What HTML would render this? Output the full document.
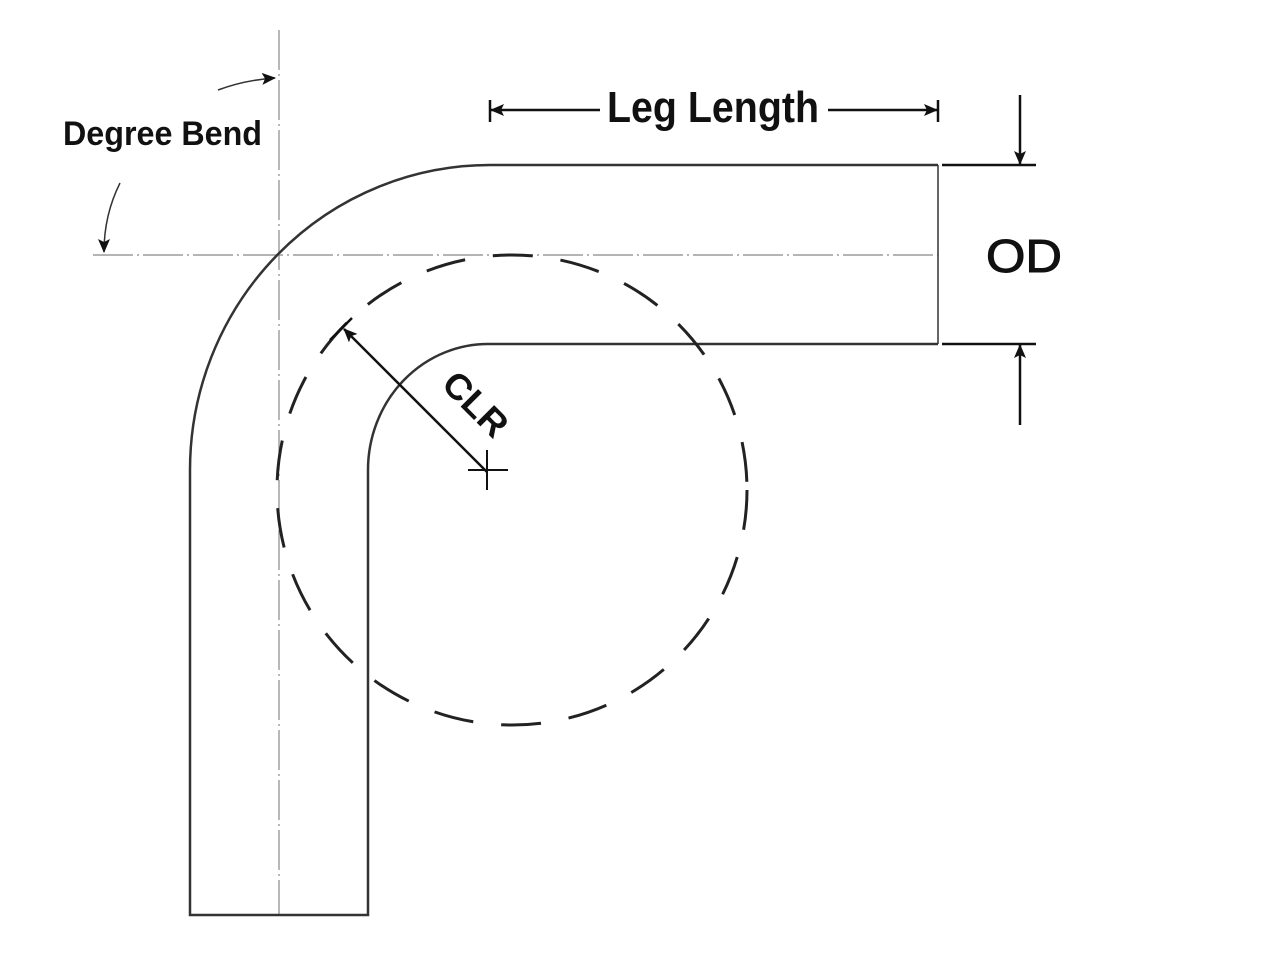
<!DOCTYPE html>
<html><head><style>body{margin:0;background:#fff}svg{display:block}</style></head><body>
<svg width="1280" height="960" viewBox="0 0 1280 960" xmlns="http://www.w3.org/2000/svg">
<rect width="1280" height="960" fill="#fff"/>
<defs>
<marker id="ah" markerWidth="14" markerHeight="12" refX="13" refY="6" orient="auto" markerUnits="userSpaceOnUse">
<path d="M0,0 L14,6 L0,12 L3,6 Z" fill="#111"/></marker>
</defs>
<g stroke="#888" stroke-width="1.2" fill="none" stroke-dasharray="40,4,2,4">
<line x1="279" y1="30" x2="279" y2="915"/>
<line x1="93" y1="255" x2="938" y2="255"/>
</g>
<g stroke="#333" stroke-width="2.5" fill="none">
<path d="M938,165 L490,165 A300,305 0 0 0 190,470 L190,915 L368,915 L368,470 A120,126 0 0 1 490,344 L938,344"/>
<line x1="938" y1="165" x2="938" y2="344" stroke-width="1.5"/>
</g>
<circle cx="512" cy="490" r="235" fill="none" stroke="#222" stroke-width="3" stroke-dasharray="40,28"/>
<g stroke="#333" stroke-width="1.5" fill="none">
<path d="M218,90 Q245,80 275,78" marker-end="url(#ah)"/>
<path d="M120,183 Q104,215 104,252" marker-end="url(#ah)"/>
</g>
<g stroke="#111" stroke-width="2.5" fill="none">
<line x1="490" y1="100" x2="490" y2="122"/>
<line x1="938" y1="100" x2="938" y2="122"/>
<line x1="600" y1="110" x2="491" y2="110" marker-end="url(#ah)"/>
<line x1="828" y1="110" x2="937" y2="110" marker-end="url(#ah)"/>
</g>
<g stroke="#111" stroke-width="2.5" fill="none">
<line x1="942" y1="165" x2="1036" y2="165"/>
<line x1="942" y1="344" x2="1036" y2="344"/>
<line x1="1020" y1="95" x2="1020" y2="164" marker-end="url(#ah)"/>
<line x1="1020" y1="425" x2="1020" y2="345" marker-end="url(#ah)"/>
</g>
<g stroke="#111" stroke-width="2.5" fill="none">
<line x1="487" y1="472" x2="344" y2="329" marker-end="url(#ah)"/>
<line x1="330" y1="340" x2="352" y2="318"/>
<line x1="487" y1="450" x2="487" y2="490" stroke-width="2"/>
<line x1="468" y1="470" x2="508" y2="470" stroke-width="2"/>
</g>
<g font-family="'Liberation Sans Narrow','Liberation Sans',sans-serif" font-weight="bold" fill="#111">
<text x="63" y="145" font-size="34" textLength="199" lengthAdjust="spacingAndGlyphs">Degree Bend</text>
<text x="607" y="122" font-size="44" textLength="212" lengthAdjust="spacingAndGlyphs">Leg Length</text>
<text x="0" y="0" font-size="36" textLength="76" lengthAdjust="spacingAndGlyphs" transform="translate(440,386) rotate(45)">CLR</text>
</g>
<text x="986" y="272" font-family="'Liberation Sans',sans-serif" font-size="46" fill="#111" stroke="#111" stroke-width="1" textLength="76" lengthAdjust="spacingAndGlyphs">OD</text>
</svg>
</body></html>
